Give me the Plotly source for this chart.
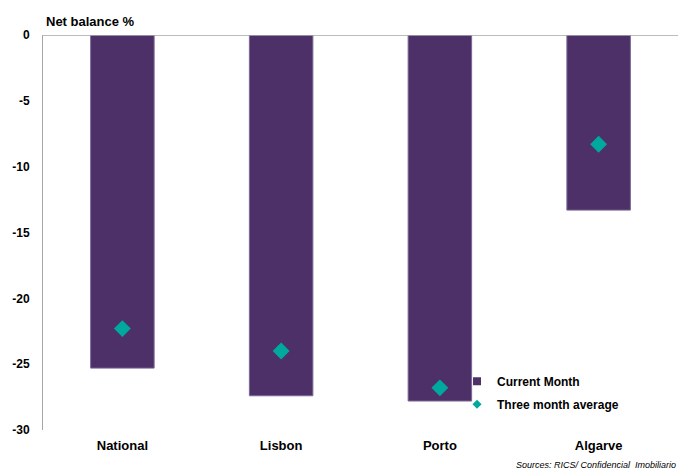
import plotly.graph_objects as go

categories = ["National", "Lisbon", "Porto", "Algarve"]
current_month = [-25.3, -27.4, -27.8, -13.3]
three_month_avg = [-22.3, -24.0, -26.8, -8.3]
y_ticks = [0, -5, -10, -15, -20, -25, -30]

FONT = "Liberation Sans, Arial, sans-serif"
PURPLE = "#4D3068"
TEAL = "#00A99D"

fig = go.Figure()
fig.add_trace(go.Bar(
    x=categories, y=current_month, name="Current Month",
    marker=dict(color=PURPLE, line=dict(color="#7A6894", width=1)),
    showlegend=False,
))
fig.add_trace(go.Scatter(
    x=categories, y=three_month_avg, name="Three month average",
    mode="markers",
    marker=dict(symbol="diamond", color=TEAL, size=13),
    showlegend=False,
))
# legend entries with small symbols
fig.add_trace(go.Scatter(
    x=[None], y=[None], name="Current Month", mode="markers",
    marker=dict(symbol="square", color=PURPLE, size=8), legendgroup="a",
))
fig.add_trace(go.Scatter(
    x=[None], y=[None], name="Three month average", mode="markers",
    marker=dict(symbol="diamond", color=TEAL, size=7), legendgroup="b",
))

fig.update_layout(
    width=697, height=475,
    margin=dict(l=43, r=19, t=35, b=45),
    paper_bgcolor="white", plot_bgcolor="white",
    bargap=0.6,
    showlegend=True,
    legend=dict(
        x=0.652, y=0.16, xanchor="left", yanchor="top",
        font=dict(family=FONT, size=12, color="black", weight="bold"),
        tracegroupgap=4, bgcolor="rgba(0,0,0,0)",
    ),
    font=dict(family=FONT, color="black"),
    xaxis=dict(
        range=[-0.5, 3.5], showgrid=False, showline=False, ticks="",
        tickfont=dict(family=FONT, size=13, color="black", weight="bold"),
        ticklabelstandoff=6,
    ),
    yaxis=dict(
        range=[-30, 0], tickvals=y_ticks, ticktext=[str(v) for v in y_ticks],
        showgrid=False, zeroline=False,
        showline=True, linecolor="#A6A6A6", linewidth=1,
        ticks="", ticklabelstandoff=10,
        tickfont=dict(family=FONT, size=12, color="black", weight="bold"),
    ),
    shapes=[dict(type="line", xref="paper", yref="y", x0=0, x1=1, y0=0, y1=0,
                 line=dict(color="#A6A6A6", width=1.5), layer="above")],
    annotations=[
        dict(text="<b>Net balance %</b>", xref="paper", yref="paper",
             x=0, y=1, xanchor="left", yanchor="bottom", yshift=4, xshift=1,
             showarrow=False, font=dict(family=FONT, size=13, color="black")),
        dict(text="<i>Sources: RICS/ Confidencial  Imobiliario</i>", xref="paper", yref="paper",
             x=1, y=0, xanchor="right", yanchor="middle", yshift=-35, xshift=0,
             showarrow=False, font=dict(family=FONT, size=9, color="black")),
    ],
)

fig.write_html("out.html")
